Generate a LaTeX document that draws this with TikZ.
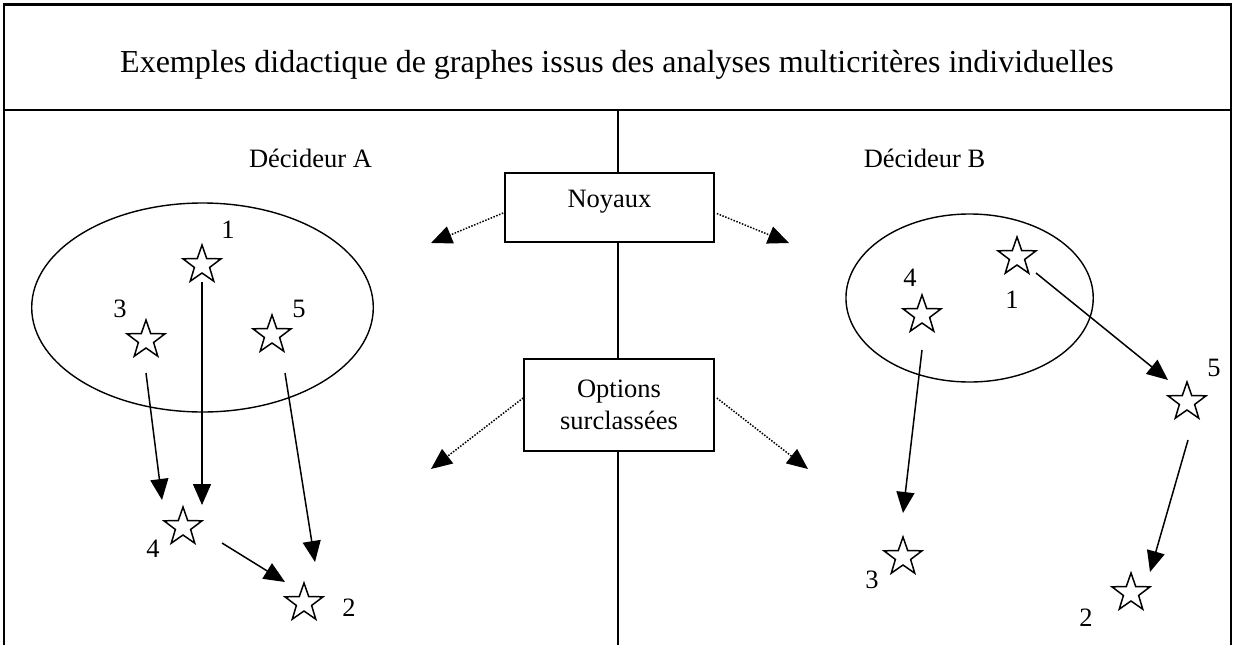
\documentclass[tikz,border=0pt]{standalone}
\usepackage{fontspec}
\setmainfont{Liberation Serif}
\usetikzlibrary{shapes.geometric,arrows.meta,calc}
\newcommand\myBody{\fontsize{26.5}{32}\selectfont}
\newcommand\myTitle{\fontsize{32}{38}\selectfont}
\begin{document}
\begin{tikzpicture}[x=1pt,y=-1pt,
  frameline/.style={line width=2.4pt},
  midline/.style={line width=1.7pt},
  boxnode/.style={draw, line width=1.7pt, inner sep=0pt, font=\myBody, align=center},
  starnode/.style={draw, star, star points=5, star point ratio=2.5, minimum size=40pt, inner sep=0pt, line width=1.5pt},
  numlabel/.style={inner sep=0pt, font=\myBody},
  ellnode/.style={draw, ellipse, inner sep=0pt, line width=1.4pt},
  arr/.style={line width=1.5pt, -{Triangle[length=21pt,width=18pt]}},
  dotarr/.style={line width=1.5pt, dash pattern=on 1.5pt off 1.5pt, -{Triangle[length=21pt,width=18pt]}},
  headtext/.style={inner sep=0pt, anchor=base}]
\useasboundingbox (0,0) rectangle (1234,645);

% frame
\coordinate (fbl) at (4,645);
\coordinate (ftl) at (4,4.5);
\coordinate (ftr) at (1231,4.5);
\coordinate (fbr) at (1231,645);
\coordinate (dl) at (4,110);
\coordinate (dr) at (1231,110);
\draw[frameline] (fbl) -- (ftl) -- (ftr) -- (fbr);
\draw[frameline] (dl) -- (dr);

% title and headers
\node[headtext, font=\myTitle] (title) at (617,72) {Exemples didactique de graphes issus des analyses multicritères individuelles};
\node[headtext, font=\myBody] (decA) at (310.5,167) {Décideur A};
\node[headtext, font=\myBody] (decB) at (924.5,167) {Décideur B};

% central boxes
\node[boxnode, minimum width=209pt, minimum height=69pt, text height=9pt, text depth=9pt] (noy) at (609.5,207.5) {Noyaux};
\node[boxnode, minimum width=190pt, minimum height=92pt] (opt) at (619,405) {Options\\surclassées};

\coordinate (mtop) at (618,110);
\coordinate (mbot) at (618,645);
\draw[midline] (mtop) -- (mtop |- noy.north);
\draw[midline] (mtop |- noy.south) -- (mtop |- opt.north);
\draw[midline] (mtop |- opt.south) -- (mbot);

% dotted arrows
\coordinate (nl) at (431,243);
\coordinate (nr) at (789,243);
\coordinate (ol) at (431,469);
\coordinate (or) at (808,469);
\draw[dotarr] ($(noy.west)+(-1,5.5)$) -- (nl);
\draw[dotarr] ($(noy.east)+(2,6)$) -- (nr);
\draw[dotarr] ($(opt.west)+(0,-7)$) -- (ol);
\draw[dotarr] ($(opt.east)+(2,-7)$) -- (or);

% ellipses
\node[ellnode, minimum width=341.6pt, minimum height=209pt] (ellA) at (202.5,307.5) {};
\node[ellnode, minimum width=247.3pt, minimum height=168pt] (ellB) at (969.6,298) {};

% stars decideur A
\node[starnode] (A1) at (202,265) {};
\node[starnode] (A3) at (146,340) {};
\node[starnode] (A5) at (272,335) {};
\node[starnode] (A4) at (183,527) {};
\node[starnode] (A2) at (304,603) {};
\node[numlabel] (lA1) at (228,230) {1};
\node[numlabel] (lA3) at (120,309) {3};
\node[numlabel] (lA5) at (299,309) {5};
\node[numlabel] (lA4) at (153,549) {4};
\node[numlabel] (lA2) at (349,608) {2};

\draw[arr] ($(A3)+(0,33)$) -- ($(A4)+(-21,-27)$);
\draw[arr] ($(A1)+(0,17)$) -- ($(A4)+(19,-22)$);
\draw[arr] ($(A5)+(13,38)$) -- ($(A2)+(11,-41)$);
\draw[arr] ($(A4)+(39,16)$) -- ($(A2)+(-19,-21)$);

% stars decideur B
\node[starnode] (B1) at (1017,257) {};
\node[starnode] (B4) at (922,315) {};
\node[starnode] (B5) at (1187,402) {};
\node[starnode] (B3) at (903,557) {};
\node[starnode] (B2) at (1131,593) {};
\node[numlabel] (lB4) at (910,278) {4};
\node[numlabel] (lB1) at (1012,300) {1};
\node[numlabel] (lB5) at (1214,368) {5};
\node[numlabel] (lB3) at (872,580) {3};
\node[numlabel] (lB2) at (1086,618) {2};

\draw[arr] ($(B1)+(19,16)$) -- ($(B5)+(-19,-22)$);
\draw[arr] ($(B4)+(0,35)$) -- ($(B3)+(0,-44)$);
\draw[arr] ($(B5)+(1,38)$) -- ($(B2)+(19,-21)$);
\end{tikzpicture}
\end{document}
